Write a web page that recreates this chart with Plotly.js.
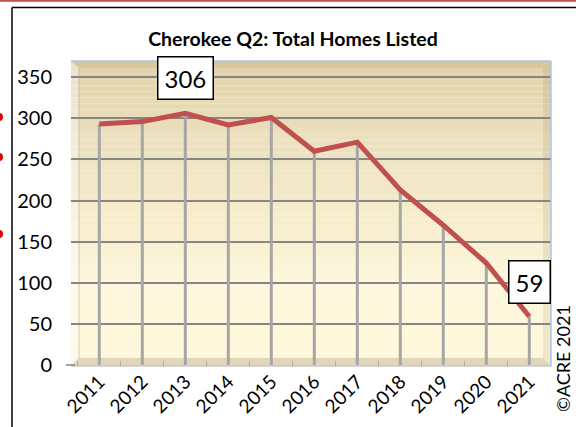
<!DOCTYPE html>
<html><head><meta charset="utf-8">
<script src="https://cdn.plot.ly/plotly-3.0.1.min.js"></script>
<style>html,body{margin:0;padding:0;background:#fff;} #chart{width:576px;height:427px;}</style>
</head><body><div id="chart"></div>
<script>
// ---- data ----
const years = ['2011','2012','2013','2014','2015','2016','2017','2018','2019','2020','2021'];
const homesListed = [293, 296, 306, 292, 301, 260, 271, 213, 170, 124, 59];
const labeledYears = ['2013', '2021'];
const labeledValues = [306, 59];
const yTickVals = [0, 50, 100, 150, 200, 250, 300, 350];
const yTickText = ['0', '50', '100', '150', '200', '250', '300', '350'];
const chartTitle = 'Cherokee Q2: Total Homes Listed';
const copyrightText = '©ACRE 2021';

// ---- geometry helpers (pixel -> paper) ----
const W = 576, H = 427, L = 71, R = 551, T = 61, B = 366;
const px = x => (x - L) / (R - L);
const py = y => (B - y) / (B - T);
const FONT = 'Lato, "Noto Sans", sans-serif';

const shapes = [];
// gradient wall
const topColor = [222, 208, 168], botColor = [255, 247, 219];
const N = 50;
for (let i = 0; i < N; i++) {
  const f = (i + 0.5) / N;
  const t = Math.pow(Math.min(1, f / 0.75), 0.8);
  const c = topColor.map((v, k) => Math.round(v + (botColor[k] - v) * t));
  shapes.push({type:'rect', xref:'paper', yref:'paper', layer:'below',
    x0:0, x1:1, y0: 1 - (i + 1) / N, y1: 1 - i / N,
    line:{width:0}, fillcolor:`rgb(${c[0]},${c[1]},${c[2]})`});
}
// top bevel
shapes.push({type:'path', xref:'paper', yref:'paper', layer:'below',
  path:`M ${px(71)} ${py(61)} L ${px(551)} ${py(61)} L ${px(543)} ${py(68)} L ${px(79)} ${py(68)} Z`,
  line:{width:0}, fillcolor:'rgba(150,120,60,0.10)'});
// left bevel (lighter)
shapes.push({type:'path', xref:'paper', yref:'paper', layer:'below',
  path:`M ${px(71)} ${py(61)} L ${px(79)} ${py(68)} L ${px(79)} ${py(358)} L ${px(71)} ${py(366)} Z`,
  line:{width:0}, fillcolor:'rgba(255,255,255,0.35)'});
// right bevel
shapes.push({type:'path', xref:'paper', yref:'paper', layer:'below',
  path:`M ${px(543)} ${py(68)} L ${px(551)} ${py(61)} L ${px(551)} ${py(366)} L ${px(543)} ${py(358)} Z`,
  line:{width:0}, fillcolor:'rgba(140,120,80,0.14)'});
// left wall edge
shapes.push({type:'line', xref:'paper', yref:'paper', layer:'below',
  x0:px(79), x1:px(79), y0:py(68), y1:py(358), line:{color:'rgba(170,160,140,0.5)', width:1}});
// floor
shapes.push({type:'path', xref:'paper', yref:'paper', layer:'between',
  path:`M ${px(71)} ${py(366)} L ${px(551)} ${py(366)} L ${px(543)} ${py(358)} L ${px(79)} ${py(358)} Z`,
  line:{width:0}, fillcolor:'rgb(226,214,186)'});
shapes.push({type:'line', xref:'paper', yref:'paper', layer:'between',
  x0:px(71), x1:px(551), y0:py(366), y1:py(366), line:{color:'rgb(200,200,205)', width:1.5}});
// small zero tick at left
shapes.push({type:'line', xref:'paper', yref:'paper', layer:'between',
  x0:px(66), x1:px(75), y0:py(365), y1:py(365), line:{color:'rgb(134,134,134)', width:1.5}});
// plot border (light blue) top & right
shapes.push({type:'line', xref:'paper', yref:'paper', x0:px(71), x1:px(551), y0:py(61), y1:py(61),
  line:{color:'rgb(170,195,235)', width:1.5}});
shapes.push({type:'line', xref:'paper', yref:'paper', x0:px(551), x1:px(551), y0:py(61), y1:py(366),
  line:{color:'rgb(170,195,235)', width:1.5}});
// outer frame
shapes.push({type:'line', xref:'paper', yref:'paper', x0:px(0), x1:px(576), y0:py(0.8), y1:py(0.8),
  line:{color:'#c0504d', width:2}});
shapes.push({type:'line', xref:'paper', yref:'paper', x0:px(12), x1:px(577), y0:py(7.5), y1:py(7.5),
  line:{color:'#000', width:1.5}});
shapes.push({type:'line', xref:'paper', yref:'paper', x0:px(12), x1:px(12), y0:py(7.5), y1:py(428),
  line:{color:'#000', width:1.5}});
// red dots at left edge
[117, 157, 234].forEach(yc => {
  shapes.push({type:'circle', xref:'paper', yref:'paper', x0:px(-5), x1:px(3), y0:py(yc-4), y1:py(yc+4),
    line:{width:0}, fillcolor:'#e00000'});
});

const annotations = labeledYears.map((yr, i) => ({
  x: years.indexOf(yr), y: labeledValues[i], xref:'x', yref:'y', text: String(labeledValues[i]),
  showarrow:false, yshift:35, xanchor:'center', yanchor:'middle',
  bgcolor:'#fff', bordercolor:'#000', borderwidth:1.5, borderpad:6,
  font:{family:FONT, size:24, color:'#000'}
}));
annotations.push({xref:'paper', yref:'paper', x:px(563), y:py(359), text:copyrightText,
  xanchor:'center', yanchor:'middle',
  textangle:-90, showarrow:false, font:{family:FONT, size:18, color:'#000'}});

const traces = [
  { x: years, y: homesListed, type:'scatter', mode:'markers', marker:{size:1, opacity:0},
    error_y:{type:'data', symmetric:false, array: homesListed.map(() => 0), arrayminus: homesListed,
      width:0, thickness:3, color:'rgb(166,166,166)'}, hoverinfo:'skip', showlegend:false },
  { x: years, y: homesListed, type:'scatter', mode:'lines',
    line:{color:'#c0504d', width:5}, showlegend:false }
];

const r0 = -(99.3 - L) / 43;
const layout = {
  width: W, height: H,
  margin:{l:L, r:W - R, t:T, b:H - B, pad:0},
  paper_bgcolor:'#fff', plot_bgcolor:'rgba(0,0,0,0)',
  title:{text:'<b>' + chartTitle + '</b>', font:{family:FONT, size:19.5, color:'#000'},
    xref:'container', yref:'container', x:293 / W, y:1 - 39 / H, xanchor:'center', yanchor:'middle'},
  xaxis:{type:'category', range:[r0, r0 + (R - L) / 43], showgrid:false, zeroline:false, showline:false,
    ticks:'inside', tickson:'boundaries', ticklen:5, tickwidth:1, tickcolor:'rgb(185,172,145)',
    tickangle:-45, tickfont:{family:FONT, size:19, color:'#000'}, fixedrange:true},
  yaxis:{range:[-1.2, 369.7], tickvals:yTickVals, ticktext:yTickText, showgrid:true,
    gridcolor:'rgb(134,134,134)', gridwidth:2, zeroline:false, showline:false,
    ticks:'outside', ticklen:14, tickcolor:'rgba(0,0,0,0)',
    tickfont:{family:FONT, size:20, color:'#000'}, fixedrange:true},
  shapes: shapes, annotations: annotations, showlegend:false
};
Plotly.newPlot('chart', traces, layout, {displayModeBar:false, staticPlot:true});
</script></body></html>
